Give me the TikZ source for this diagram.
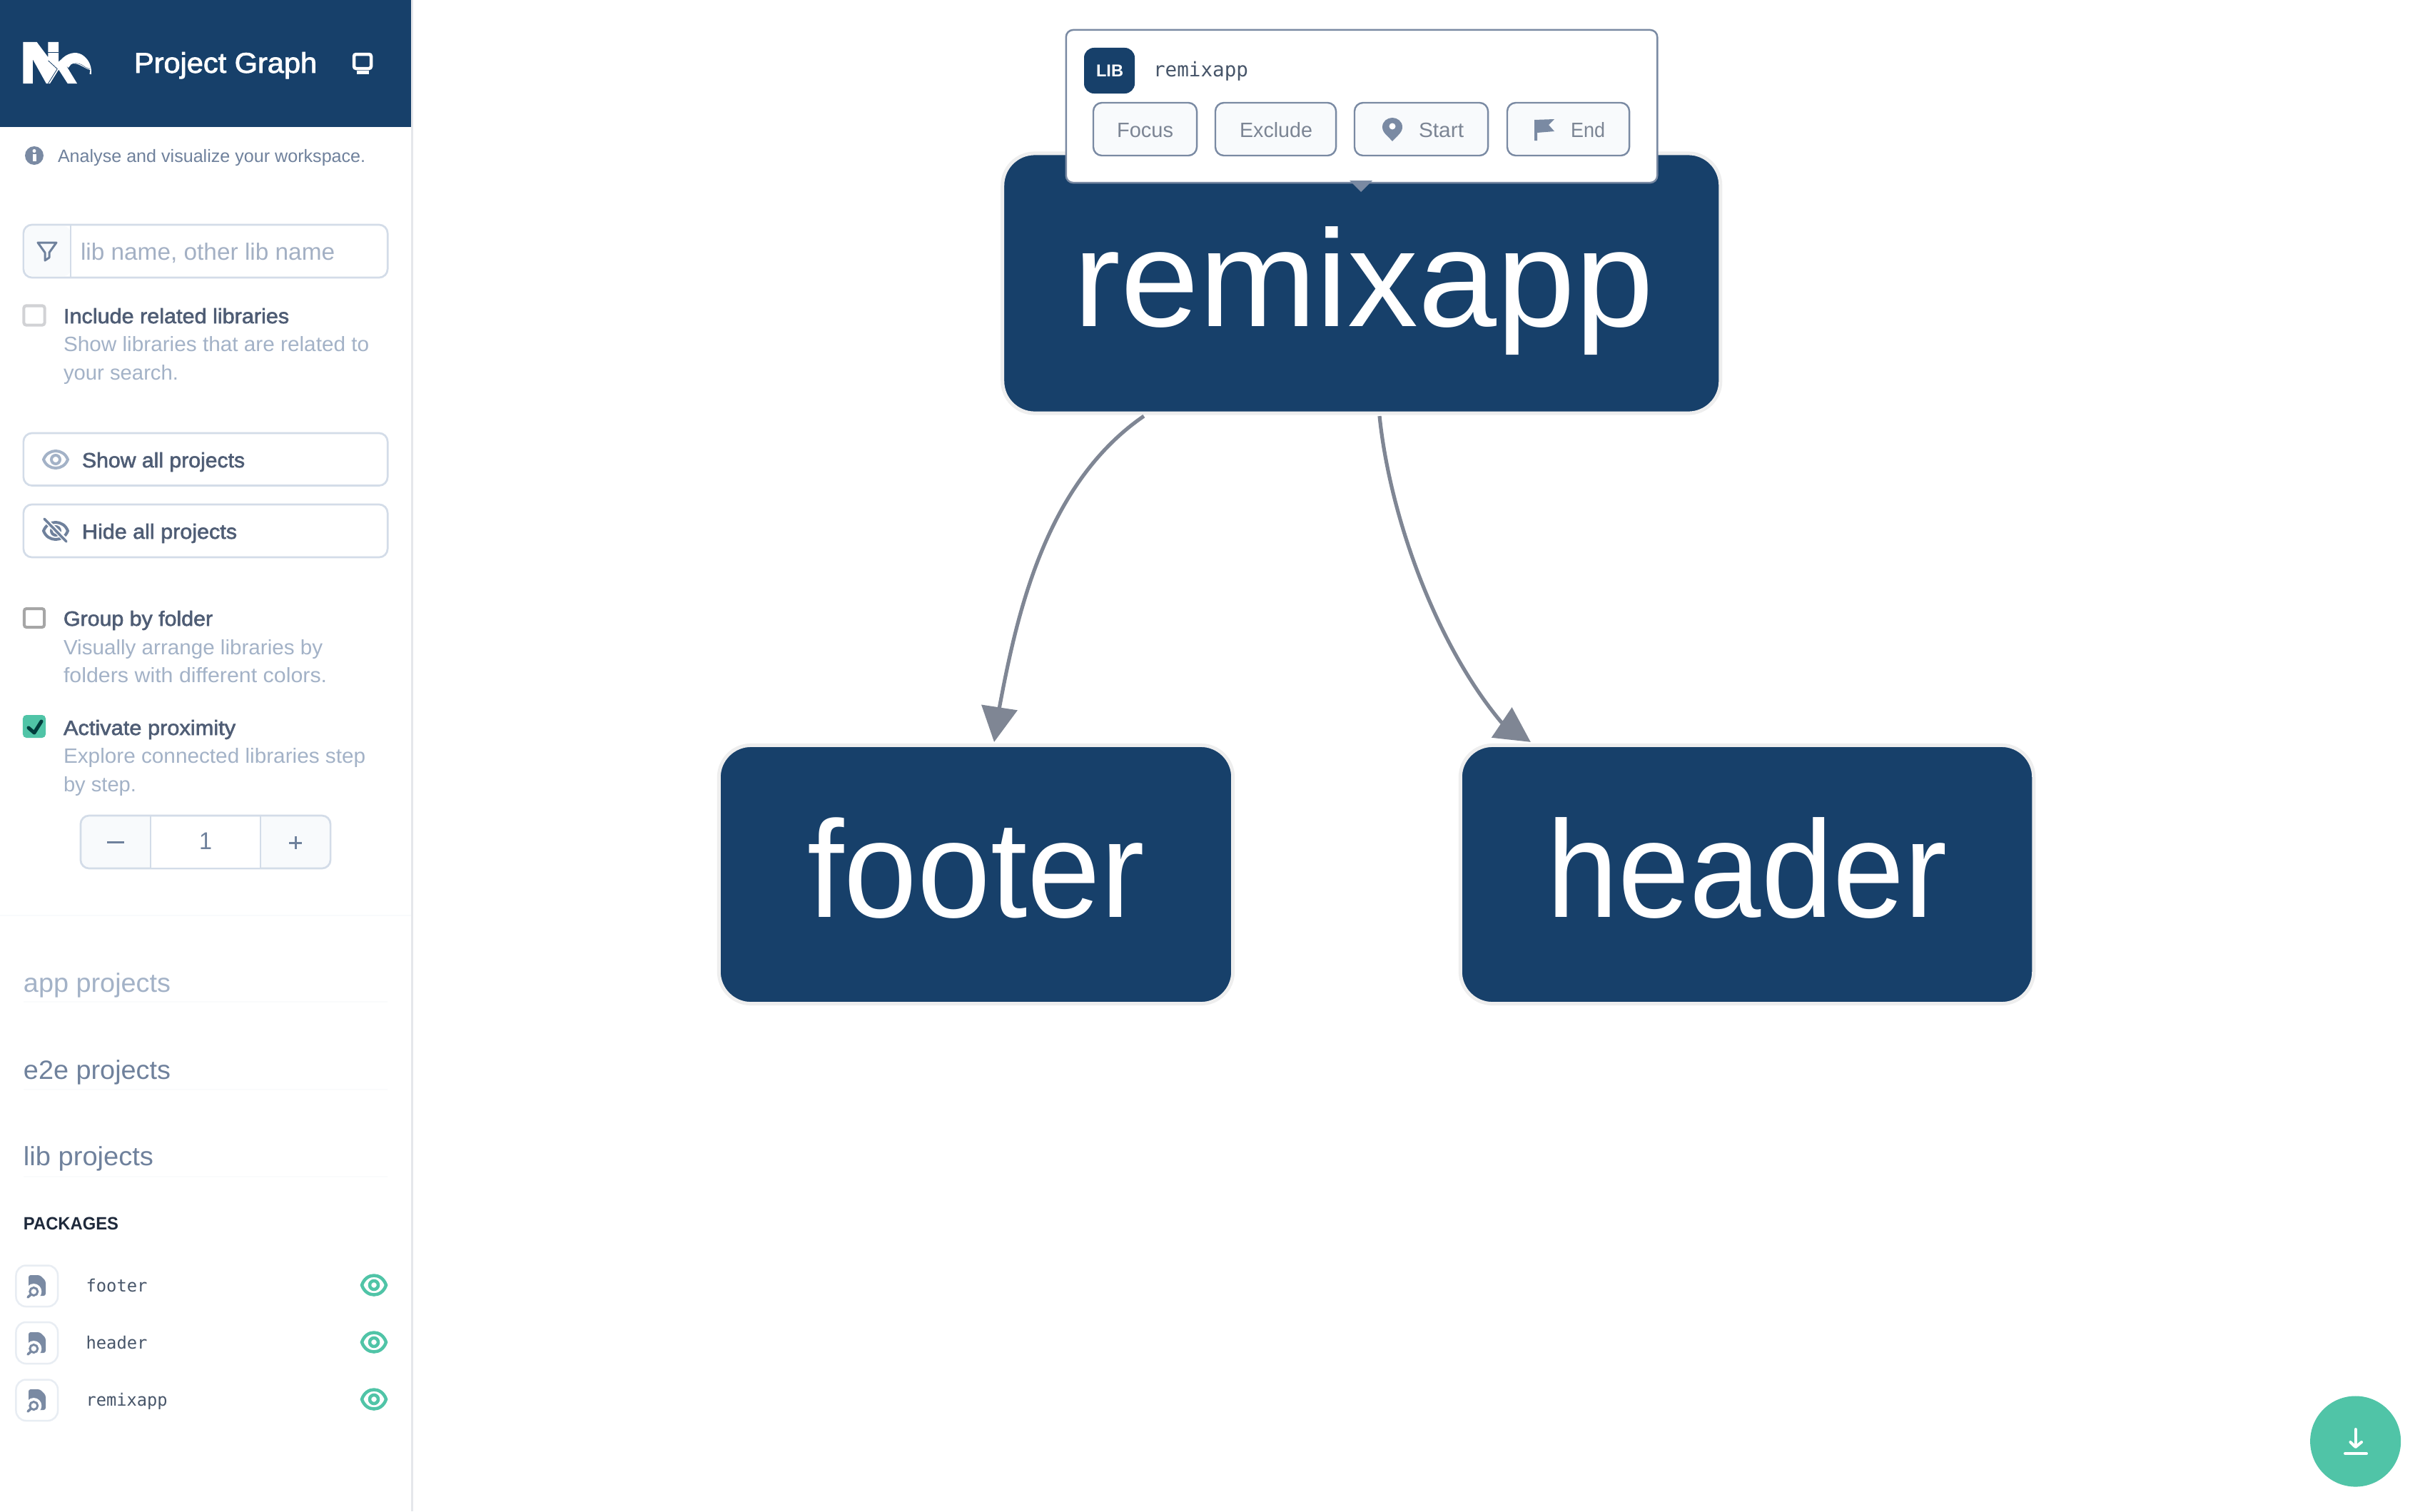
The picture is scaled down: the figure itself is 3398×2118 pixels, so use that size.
\documentclass[tikz,border=0pt]{standalone}
\usepackage{fontspec}
\usepackage{graphicx}
\setmainfont{Liberation Sans}
\newfontfamily\medf[FakeBold=2]{Liberation Sans}
\newfontfamily\monof{DejaVu Sans Mono}
\usetikzlibrary{arrows.meta,calc}
\definecolor{hdr}{HTML}{17406A}
\definecolor{slateb}{HTML}{7A8AA3}
\definecolor{sl3}{HTML}{D3DCE8}
\definecolor{pale}{HTML}{A3B2C7}
\definecolor{mid}{HTML}{4F5D75}
\definecolor{midm}{HTML}{475569}
\definecolor{slm}{HTML}{6F819C}
\definecolor{btnt}{HTML}{7C8594}
\definecolor{dark}{HTML}{1E293B}
\definecolor{tealc}{HTML}{50C4A7}
\definecolor{edgec}{HTML}{7F8694}
\definecolor{ringc}{HTML}{EEEEEE}
\definecolor{soft}{HTML}{F8FAFC}
\definecolor{fnt}{HTML}{FAFBFC}
\definecolor{divc}{HTML}{E5E7EB}
\definecolor{tile}{HTML}{E8EDF3}
\definecolor{holdc}{HTML}{A3B0C4}
\newcommand\fpx[1]{\fontsize{\dimexpr0.28453pt*#1\relax}{\dimexpr0.34pt*#1\relax}\selectfont}
\newcommand\wpx[2]{\resizebox{\dimexpr0.28453pt*#1\relax}{\height}{#2}}
% name x y width font colour text
\newcommand\tx[7]{\node[anchor=base west,inner sep=0,outer sep=0,text=#6] (#1) at (#2,#3) {#5\wpx{#4}{#7}};}
% name x1 y1 x2 y2 style
\newcommand\bx[6]{\pgfmathsetmacro\bw{(#4-#2)/100}\pgfmathsetmacro\bh{(#5-#3)/100}\node[#6,minimum width=\bw cm,minimum height=\bh cm,inner sep=0,outer sep=0] (#1) at ({(#2+#4)/2},{(#3+#5)/2}) {};}
\newcommand\eyeic[5]{\begin{scope}[shift={(#1,#2)}]
\draw[#3,line width=#4cm] (-17,0) .. controls (-11,-#5) and (11,-#5) .. (17,0) .. controls (11,#5) and (-11,#5) .. (-17,0) -- cycle;
\draw[#3,line width=#4cm] (0,0) circle (6);
\end{scope}}
\newcommand\pkgic[1]{\begin{scope}[shift={(52,#1)}]
\fill[slateb,rounded corners=0.03cm] (-12,-15) -- (4,-15) -- (12,-7) -- (12,14) -- (-12,14) -- cycle;
\fill[white] (-4.7,8) circle (11);
\draw[slateb,line width=0.03cm] (-4.7,8) circle (5.5);
\draw[slateb,line width=0.035cm,line cap=round] (-9,12.5) -- (-13,16);
\end{scope}}
\tikzset{
  gnode/.style={draw=ringc,line width=0.05cm,fill=hdr,rounded corners=0.45cm,text=white,inner sep=0,outer sep=0,font=\fpx{193},text height=1.40cm,text depth=0.20cm},
  edgeln/.style={edgec,line width=0.052cm,-{Triangle[length=4.9mm,width=5mm]}},
  softbox/.style={draw=sl3,line width=0.027cm,rounded corners=0.12cm,fill=white},
  popbtn/.style={draw=slateb,line width=0.024cm,rounded corners=0.12cm,fill=soft},
  tilebox/.style={draw=tile,line width=0.025cm,rounded corners=0.14cm,fill=white},
  faint/.style={fnt,line width=0.02cm}
}
\begin{document}
\begin{tikzpicture}[x=0.01cm,y=-0.01cm]
\useasboundingbox (0,0) rectangle (3398,2118);
\fill[white] (0,0) rectangle (3398,2118);
% sidebar
\fill[divc] (576,0) rectangle (579,2118);
\fill[hdr] (0,0) rectangle (576,178);
% logo
\begin{scope}[shift={(20,45)},x=0.003333cm,y=-0.003333cm]
\fill[white] (37,42) -- (95,42) -- (142,105) -- (142,42) -- (187,42) -- (187,125) -- (205,108)
  .. controls (235,82) and (270,82) .. (292,100) .. controls (315,118) and (327,145) .. (324,178)
  -- (317,176) -- (320,160) .. controls (290,150) and (265,125) .. (240,135) -- (228,150) -- (218,140)
  -- (265,217) -- (225,217) -- (187,158) -- (150,217) -- (135,217) -- (78,115) -- (78,217) -- (37,217) -- cycle;
\draw[hdr,line width=0.008cm] (143,120) -- (181,155) -- (143,216);
\draw[hdr,line width=0.006cm] (142,86) -- (187,86);
\draw[hdr,line width=0.004cm] (232,148) .. controls (245,125) and (275,128) .. (295,145) .. controls (305,152) and (312,152) .. (318,156);
\end{scope}
\tx{title}{188}{102}{256}{\medf\fpx{40}}{white}{Project Graph}
% monitor icon
\draw[white,line width=0.045cm,fill=hdr,rounded corners=0.03cm] (496,76) rectangle (520,96);
\fill[white] (500,99) rectangle (517,104);
% intro
\fill[slateb] (48,218) circle (13);
\fill[white] (48,211.5) circle (2.5);
\fill[white] (45.5,216) rectangle (50.5,226);
\tx{intro}{81}{227}{431}{\fpx{25}}{slm}{Analyse and visualize your workspace.}
% search
\bx{search}{33}{315}{543}{389}{softbox}
\begin{scope}
\fill[soft,rounded corners=0.1cm] (35,317) rectangle (99,387);
\draw[sl3,line width=0.027cm] (99,316) -- (99,388);
\end{scope}
\draw[slm,line width=0.03cm,line join=round] (53,340) -- (79,340) -- (69,354) -- (69,361) -- (63,365) -- (63,354) -- cycle;
\tx{placeholder}{113}{364}{356}{\fpx{33}}{holdc}{lib name, other lib name}
% checkbox 1
\bx{cb1}{33.5}{428.5}{62.5}{455.5}{draw=divc!80!gray,line width=0.04cm,rounded corners=0.03cm,fill=white}
\tx{inclT}{89}{453}{316}{\medf\fpx{29}}{mid}{Include related libraries}
\tx{inclA}{89}{492}{428}{\fpx{29}}{pale}{Show libraries that are related to}
\tx{inclB}{89}{532}{161}{\fpx{29}}{pale}{your search.}
% show / hide
\bx{showb}{33}{607}{543}{680.5}{softbox}
\eyeic{78}{644}{pale}{0.04}{16}
\tx{showT}{115}{655}{228}{\medf\fpx{29}}{mid}{Show all projects}
\bx{hideb}{33}{707}{543}{781}{softbox}
\eyeic{78}{744}{slm}{0.04}{16}
\draw[white,line width=0.07cm] (64,729) -- (94,759);
\draw[slm,line width=0.035cm,line cap=round] (62,727) -- (93,759);
\tx{hideT}{115}{755}{217}{\medf\fpx{29}}{mid}{Hide all projects}
% group
\bx{cb2}{34}{853}{62}{879}{draw=gray!70,line width=0.04cm,rounded corners=0.03cm,fill=white}
\tx{grpT}{89}{877}{209}{\medf\fpx{29}}{mid}{Group by folder}
\tx{grpA}{89}{917}{363}{\fpx{29}}{pale}{Visually arrange libraries by}
\tx{grpB}{89}{956}{369}{\fpx{29}}{pale}{folders with different colors.}
% proximity
\bx{cb3}{32}{1002}{64}{1034}{fill=tealc,rounded corners=0.05cm}
\draw[black!20!teal!60!black,line width=0.05cm,line cap=round,line join=round] (40,1020) -- (48,1027) -- (58,1011);
\tx{proxT}{89}{1030}{241}{\medf\fpx{29}}{mid}{Activate proximity}
\tx{proxA}{89}{1069}{423}{\fpx{29}}{pale}{Explore connected libraries step}
\tx{proxB}{89}{1109}{102}{\fpx{29}}{pale}{by step.}
% stepper
\bx{stepper}{113}{1143}{463}{1217}{draw=sl3,line width=0.027cm,rounded corners=0.12cm,fill=soft}
\fill[white] (211,1144.5) rectangle (365,1215.5);
\draw[sl3,line width=0.027cm] (211,1144) -- (211,1216);
\draw[sl3,line width=0.027cm] (365,1144) -- (365,1216);
\draw[slm,line width=0.03cm] (150,1180) -- (174,1180);
\draw[slm,line width=0.03cm] (405,1181) -- (423,1181);
\draw[slm,line width=0.03cm] (414,1172) -- (414,1190);
\tx{stepnum}{279}{1190}{18}{\fpx{34}}{slm}{1}
% separators
\draw[soft,line width=0.02cm] (0,1283) -- (576,1283);
\draw[faint] (33,1404) -- (543,1404);
\draw[faint] (33,1527) -- (543,1527);
\draw[faint] (33,1649) -- (543,1649);
\tx{apps}{33}{1390}{206}{\fpx{37}}{pale}{app projects}
\tx{e2es}{33}{1512}{206}{\fpx{37}}{slm}{e2e projects}
\tx{libs}{33}{1633}{182}{\fpx{37}}{slm}{lib projects}
\tx{pkgs}{33}{1723}{133}{\bfseries\fpx{25}}{dark}{PACKAGES}
% package rows
\bx{t1}{22.5}{1773.5}{81}{1831}{tilebox}
\bx{t2}{22.5}{1853}{81}{1911}{tilebox}
\bx{t3}{22.5}{1933.5}{81}{1991}{tilebox}
\pkgic{1802}\pkgic{1882}\pkgic{1962}
\tx{p1}{120.5}{1810}{86}{\monof\fpx{24}}{midm}{footer}
\tx{p2}{120.5}{1890}{86}{\monof\fpx{24}}{midm}{header}
\tx{p3}{120.5}{1970}{114}{\monof\fpx{24}}{midm}{remixapp}
\eyeic{524}{1801}{tealc}{0.045}{18}
\eyeic{524}{1881}{tealc}{0.045}{18}
\eyeic{524}{1961}{tealc}{0.045}{18}
% graph
\node[gnode,minimum width=10.055cm,minimum height=3.64cm] (remixapp) at (1907.75,397) {\hspace*{0.06cm}\wpx{812}{remixapp}};
\node[gnode,minimum width=7.20cm,minimum height=3.62cm] (footer) at (1367.5,1225.5) {\wpx{472}{footer}};
\node[gnode,minimum width=8.03cm,minimum height=3.62cm] (header) at (2448,1225.5) {\wpx{561}{header}};
\coordinate (e1m) at (1400.5,991);
\coordinate (e2m) at (2103.5,1012);
\draw[edgeln] ([xshift=-3.0475cm,yshift=-0.04cm]remixapp.south) .. controls (1465,678) and (1425,860) .. (e1m) -- ([xshift=0.255cm,yshift=0.045cm]footer.north);
\draw[edgeln] ([xshift=0.2525cm,yshift=-0.04cm]remixapp.south) .. controls (1947,720) and (2010,900) .. (e2m) -- ([xshift=-3.03cm,yshift=0.045cm]header.north);
% popup
\bx{popup}{1494}{42}{2322}{256}{draw=slateb,line width=0.025cm,rounded corners=0.1cm,fill=white}
\fill[slateb] (1891,253) -- (1923,253) -- (1907,269) -- cycle;
\bx{libbadge}{1519}{67}{1590}{131}{fill=hdr,rounded corners=0.14cm}
\tx{libt}{1536}{107}{38}{\bfseries\fpx{24}}{white}{LIB}
\tx{popname}{1616}{107}{133}{\monof\fpx{28}}{midm}{remixapp}
\bx{bfocus}{1532}{144}{1677}{218}{popbtn}
\bx{bexcl}{1703}{144}{1872}{218}{popbtn}
\bx{bstart}{1898}{144}{2085}{218}{popbtn}
\bx{bend}{2112}{144}{2283}{218}{popbtn}
\tx{tfocus}{1565}{192}{79}{\fpx{29}}{btnt}{Focus}
\tx{texcl}{1737}{192}{102}{\fpx{29}}{btnt}{Exclude}
\tx{tstart}{1988}{192}{63}{\fpx{29}}{btnt}{Start}
\tx{tend}{2201}{192}{48}{\fpx{29}}{btnt}{End}
\fill[slateb] (1951,198) .. controls (1944,190) and (1937,186) .. (1937,178) .. controls (1937,170) and (1944,165) .. (1951,165) .. controls (1958,165) and (1965,170) .. (1965,178) .. controls (1965,186) and (1958,190) .. (1951,198) -- cycle;
\fill[white] (1951,177) circle (4.5);
\fill[slateb] (2150,168) -- (2178,167) -- (2170,175) -- (2178,184) -- (2154,186) -- (2154,197) -- (2150,197) -- cycle;
% download
\node[circle,fill=tealc,minimum size=1.27cm,inner sep=0,outer sep=0] (fab) at (3300.6,2020) {};
\draw[white,line width=0.04cm,line cap=round] (3300.6,2003) -- (3300.6,2027);
\draw[white,line width=0.04cm,line cap=round,line join=round] (3293.4,2021) -- (3300.6,2028) -- (3309,2021);
\draw[white,line width=0.04cm,line cap=round] (3286,2037) -- (3316,2037);
\end{tikzpicture}
\end{document}
